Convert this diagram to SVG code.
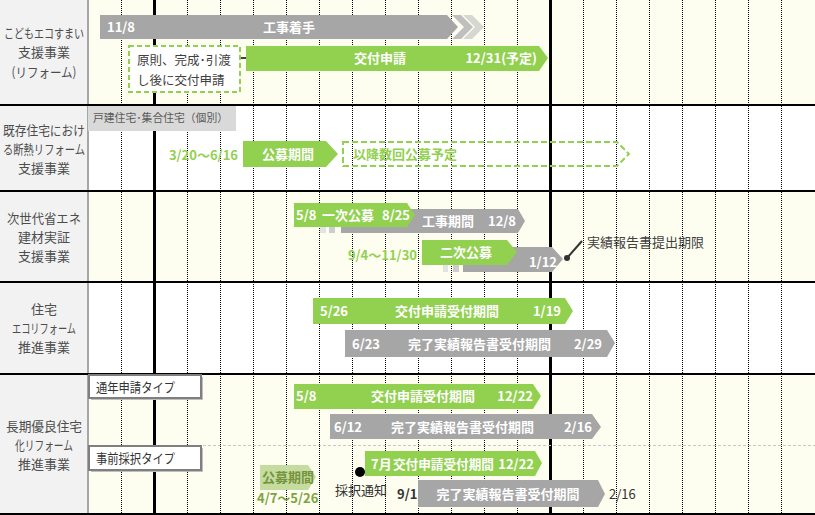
<svg xmlns="http://www.w3.org/2000/svg" width="815" height="515" viewBox="0 0 815 515">
<style>
text{font-family:"Noto Sans CJK JP","Noto Sans",sans-serif;font-size:13px}
.lbl{fill:#4d4d4d;text-anchor:middle}
.w{fill:#fff;font-weight:bold}
.gt{fill:#92d050;font-weight:bold}
.dk{fill:#404040}
.green{fill:#92d050}
.gray{fill:#a6a6a6}
.dot{stroke:#000;stroke-width:1;stroke-dasharray:1,1;shape-rendering:crispEdges}
.thick{stroke:#000;stroke-width:3}
.sep{stroke:#000;stroke-width:2}
</style>
<g id="background">
<rect x="0" y="0" width="815" height="515" fill="#fff"/>
<rect x="88" y="0" width="727" height="105" fill="#fefef0"/>
<rect x="88" y="191" width="727" height="91" fill="#fefef0"/>
<rect x="88" y="374" width="727" height="141" fill="#fefef0"/>
<rect x="0" y="0" width="88" height="515" fill="#f2f2f2"/>
<line x1="88" y1="0" x2="88" y2="515" stroke="#a6a6a6" stroke-width="2"/>
</g>
<g id="grid">
<line class="dot" x1="121.5" y1="0" x2="121.5" y2="515"/>
<line class="dot" x1="187.5" y1="0" x2="187.5" y2="515"/>
<line class="dot" x1="220.5" y1="0" x2="220.5" y2="515"/>
<line class="dot" x1="253.5" y1="0" x2="253.5" y2="515"/>
<line class="dot" x1="286.5" y1="0" x2="286.5" y2="515"/>
<line class="dot" x1="319.5" y1="0" x2="319.5" y2="515"/>
<line class="dot" x1="352.5" y1="0" x2="352.5" y2="515"/>
<line class="dot" x1="385.5" y1="0" x2="385.5" y2="515"/>
<line class="dot" x1="418.5" y1="0" x2="418.5" y2="515"/>
<line class="dot" x1="451.5" y1="0" x2="451.5" y2="515"/>
<line class="dot" x1="484.5" y1="0" x2="484.5" y2="515"/>
<line class="dot" x1="517.5" y1="0" x2="517.5" y2="515"/>
<line class="dot" x1="583.5" y1="0" x2="583.5" y2="515"/>
<line class="dot" x1="616.5" y1="0" x2="616.5" y2="515"/>
<line class="dot" x1="649.5" y1="0" x2="649.5" y2="515"/>
<line class="dot" x1="682.5" y1="0" x2="682.5" y2="515"/>
<line class="dot" x1="715.5" y1="0" x2="715.5" y2="515"/>
<line class="dot" x1="748.5" y1="0" x2="748.5" y2="515"/>
<line class="dot" x1="781.5" y1="0" x2="781.5" y2="515"/>
<line class="thick" x1="154.5" y1="0" x2="154.5" y2="515"/>
<line class="thick" x1="550.5" y1="0" x2="550.5" y2="515"/>
<line class="sep" x1="0" y1="105" x2="815" y2="105"/>
<line class="sep" x1="0" y1="191" x2="815" y2="191"/>
<line class="sep" x1="0" y1="282" x2="815" y2="282"/>
<line class="sep" x1="0" y1="374" x2="815" y2="374"/>
<line class="sep" x1="0" y1="514" x2="815" y2="514"/>
<line x1="88" y1="445.5" x2="815" y2="445.5" stroke="#c8c8c8" stroke-width="1" stroke-dasharray="3,2"/>
</g>
<g id="labels">
<text class="lbl" x="44" y="38" textLength="80" lengthAdjust="spacingAndGlyphs">こどもエコすまい</text>
<text class="lbl" x="44" y="57">支援事業</text>
<text class="lbl" x="44" y="77" textLength="65" lengthAdjust="spacingAndGlyphs">(リフォーム)</text>
<text class="lbl" x="44" y="135" textLength="82" lengthAdjust="spacingAndGlyphs">既存住宅におけ</text>
<text class="lbl" x="44" y="154" textLength="82" lengthAdjust="spacingAndGlyphs">る断熱リフォーム</text>
<text class="lbl" x="44" y="173">支援事業</text>
<text class="lbl" x="44" y="223" textLength="74" lengthAdjust="spacingAndGlyphs">次世代省エネ</text>
<text class="lbl" x="44" y="242">建材実証</text>
<text class="lbl" x="44" y="261">支援事業</text>
<text class="lbl" x="44" y="314">住宅</text>
<text class="lbl" x="44" y="333" textLength="64" lengthAdjust="spacingAndGlyphs">エコリフォーム</text>
<text class="lbl" x="44" y="352">推進事業</text>
<text class="lbl" x="44" y="431" textLength="76" lengthAdjust="spacingAndGlyphs">長期優良住宅</text>
<text class="lbl" x="44" y="450" textLength="58" lengthAdjust="spacingAndGlyphs">化リフォーム</text>
<text class="lbl" x="44" y="469">推進事業</text>
</g>
<g id="connectors">
<line x1="241" y1="58" x2="264" y2="58" stroke="#404040" stroke-width="2"/>
<circle cx="264" cy="58" r="3" fill="#404040"/>
<line x1="567" y1="258" x2="582" y2="241" stroke="#333" stroke-width="2"/>
<circle cx="567" cy="258" r="3" fill="#333"/>
</g>
<g id="kodomo-koji">
<polygon class="gray" points="100,15 447,15 458,27 447,39 100,39"/>
<polygon fill="#bfbfbf" points="452,15 461,15 473,27 461,39 452,39 464,27"/>
<polygon fill="#d6d6d2" points="463,15 472,15 484,27 472,39 463,39 475,27"/>
<text class="w" x="107" y="32">11/8</text>
<text class="w" x="289" y="32" text-anchor="middle">工事着手</text>
</g>
<g id="kodomo-kofu">
<polygon class="green" points="246,46 539,46 548,58 539,71 246,71"/>
<text class="w" x="380" y="63" text-anchor="middle">交付申請</text>
<text class="w" x="537" y="63" text-anchor="end">12/31(予定)</text>
</g>
<g id="kodomo-note">
<rect x="129" y="46" width="111" height="46" fill="#fff" stroke="#92d050" stroke-width="2" stroke-dasharray="5,3"/>
<text class="dk" x="137" y="65" style="font-size:12.5px">原則、完成･引渡</text>
<text class="dk" x="137" y="85" style="font-size:12.5px">し後に交付申請</text>
</g>
<g id="danetsu-type">
<rect x="88" y="106" width="148" height="25" fill="#d9d9d9"/>
<text x="93" y="122" fill="#595959" style="font-size:11px" textLength="135" lengthAdjust="spacingAndGlyphs">戸建住宅･集合住宅（個別）</text>
</g>
<g id="danetsu-kobo">
<text class="gt" x="238" y="160" text-anchor="end">3/20～6/16</text>
<polygon class="green" points="243,141 326,141 338,154 326,167 243,167"/>
<text class="w" x="288" y="159" text-anchor="middle">公募期間</text>
</g>
<g id="danetsu-next">
<polygon points="343,142 617,142 629,154 617,166 343,166" fill="none" stroke="#92d050" stroke-width="2" stroke-dasharray="6,3"/>
<text class="gt" x="353" y="159">以降数回公募予定</text>
</g>
<g id="jisedai-koji">
<rect x="320" y="209" width="6" height="24" fill="#e3e3e3"/>
<rect x="329" y="209" width="6" height="24" fill="#cdcdcd"/>
<polygon class="gray" points="341,209 518,209 525,221 518,233 341,233"/>
<text class="w" x="422" y="226">工事期間</text>
<text class="w" x="488" y="226">12/8</text>
</g>
<g id="jisedai-ichiji">
<polygon class="green" points="294,203 407,203 415,215 407,227 294,227"/>
<text class="w" x="296" y="220">5/8</text>
<text class="w" x="322" y="220">一次公募</text>
<text class="w" x="382" y="220">8/25</text>
</g>
<g id="jisedai-koji2">
<rect x="443" y="247" width="5" height="25" fill="#e3e3e3"/>
<rect x="453" y="247" width="6" height="25" fill="#cdcdcd"/>
<polygon class="gray" points="463,247 552,247 563,259 552,272 463,272"/>
<text class="w" x="557" y="267" text-anchor="end">1/12</text>
</g>
<g id="jisedai-niji">
<text class="gt" x="417" y="260" text-anchor="end">9/4～11/30</text>
<polygon class="green" points="422,240 507,240 517,252 507,265 422,265"/>
<text class="w" x="466" y="257" text-anchor="middle">二次公募</text>
</g>
<g id="jisedai-deadline">
<text class="dk" x="587" y="247">実績報告書提出期限</text>
</g>
<g id="eco-kofu">
<polygon class="green" points="313,298 565,298 573,311 565,324 313,324"/>
<text class="w" x="320" y="316">5/26</text>
<text class="w" x="395" y="316">交付申請受付期間</text>
<text class="w" x="561" y="316" text-anchor="end">1/19</text>
</g>
<g id="eco-kanryo">
<polygon class="gray" points="345,330 607,330 615,343 607,357 345,357"/>
<text class="w" x="352" y="349">6/23</text>
<text class="w" x="408" y="349">完了実績報告書受付期間</text>
<text class="w" x="602" y="349" text-anchor="end">2/29</text>
</g>
<g id="choki-tsunen">
<rect x="91" y="377" width="112" height="23" fill="#bfbfbf"/>
<rect x="89" y="375" width="112" height="23" fill="#fff" stroke="#7f7f7f" stroke-width="2"/>
<text x="96" y="392" fill="#333" textLength="79" lengthAdjust="spacingAndGlyphs">通年申請タイプ</text>
</g>
<g id="choki-jizen">
<rect x="91" y="448" width="112" height="24" fill="#bfbfbf"/>
<rect x="89" y="446" width="112" height="24" fill="#fff" stroke="#7f7f7f" stroke-width="2"/>
<text x="96" y="463" fill="#333" textLength="79" lengthAdjust="spacingAndGlyphs">事前採択タイプ</text>
</g>
<g id="choki-kofu1">
<polygon class="green" points="294,384 533,384 541,396 533,409 294,409"/>
<text class="w" x="296" y="401">5/8</text>
<text class="w" x="371" y="401">交付申請受付期間</text>
<text class="w" x="533" y="401" text-anchor="end">12/22</text>
</g>
<g id="choki-kanryo1">
<polygon class="gray" points="330,414 592,414 601,427 592,439 330,439"/>
<text class="w" x="334" y="432">6/12</text>
<text class="w" x="391" y="432">完了実績報告書受付期間</text>
<text class="w" x="592" y="432" text-anchor="end">2/16</text>
</g>
<g id="choki-kobo">
<polygon fill="#c4dca0" points="260,465 308,465 316,477 308,490 260,490"/>
<text x="262" y="482" fill="#76933c" font-weight="bold">公募期間</text>
<text x="257" y="503" fill="#7aa43e" font-weight="bold">4/7～5/26</text>
</g>
<g id="choki-saitaku">
<circle cx="360" cy="472" r="5" fill="#000"/>
<text x="335" y="495" fill="#333">採択通知</text>
</g>
<g id="choki-kofu2">
<polygon class="green" points="365,451 535,451 542,463 535,476 365,476"/>
<text class="w" x="371" y="469">7月</text>
<text class="w" x="393" y="469" textLength="101" lengthAdjust="spacingAndGlyphs">交付申請受付期間</text>
<text class="w" x="534" y="469" text-anchor="end">12/22</text>
</g>
<g id="choki-kanryo2">
<text x="397" y="499" fill="#333" font-weight="bold">9/1</text>
<polygon class="gray" points="418,480 598,480 605,494 598,507 418,507"/>
<text class="w" x="508" y="499" text-anchor="middle">完了実績報告書受付期間</text>
<text x="609" y="499" fill="#333">2/16</text>
</g>
</svg>
